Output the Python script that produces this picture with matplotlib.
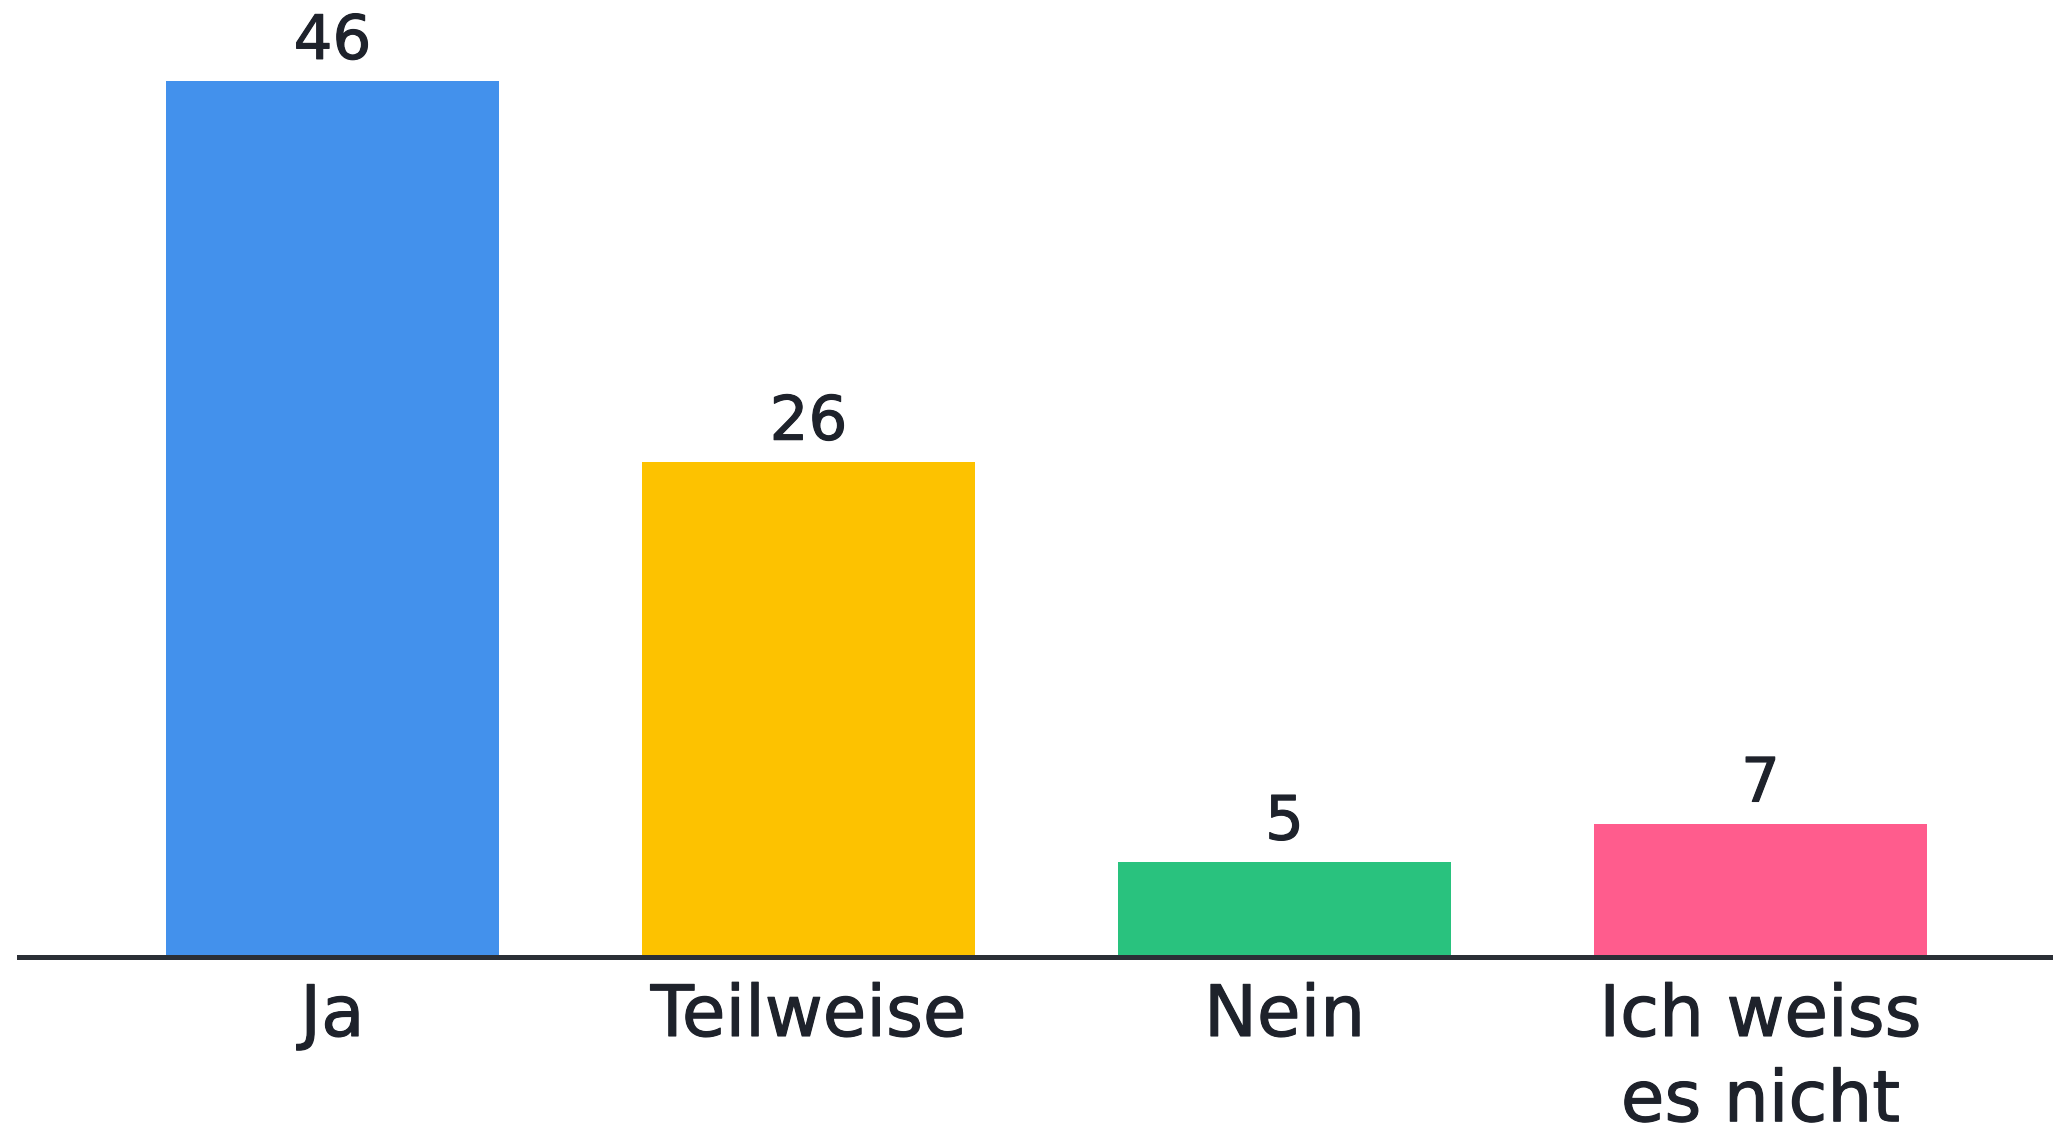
import matplotlib
matplotlib.use("Agg")
import matplotlib.pyplot as plt
import matplotlib.patheffects as pe

categories = ["Ja", "Teilweise", "Nein", "Ich weiss\nes nicht"]
values = [46, 26, 5, 7]
colors = ["#4391EC", "#FDC200", "#29C27E", "#FF5C8D"]

text_color = "#1E222B"
plt.rcParams["font.family"] = ["DejaVu Sans"]
# slightly heavier strokes than DejaVu Book
heavier = [pe.withStroke(linewidth=0.8, foreground=text_color)]

fig = plt.figure(figsize=(20.53, 11.30), dpi=100)
ax = fig.add_axes([0.00925, 0.1531, 0.99075, 0.8469])

x = list(range(len(categories)))
bars = ax.bar(x, values, width=0.70, color=colors, zorder=2)

ax.set_xlim(-0.6586, 3.6145)
ax.set_ylim(0, 50.26)

# value labels sit ~22 px above each bar
for rect, v in zip(bars, values):
    ax.annotate(str(v), (rect.get_x() + rect.get_width() / 2, rect.get_height()),
                xytext=(0, 16), textcoords="offset points",
                ha="center", va="baseline", fontsize=44,
                color=text_color, path_effects=heavier)

ax.set_xticks(x)
ax.set_xticklabels(categories, fontsize=51, color=text_color, linespacing=1.3)
for lbl in ax.get_xticklabels():
    lbl.set_path_effects(heavier)
ax.tick_params(axis="x", length=0, pad=18)
ax.set_yticks([])

for side in ["top", "right", "left"]:
    ax.spines[side].set_visible(False)
ax.spines["bottom"].set_linewidth(3.6)
ax.spines["bottom"].set_color("#2B2F36")
ax.spines["bottom"].set_zorder(3)

fig.savefig("out.png", dpi=100)
